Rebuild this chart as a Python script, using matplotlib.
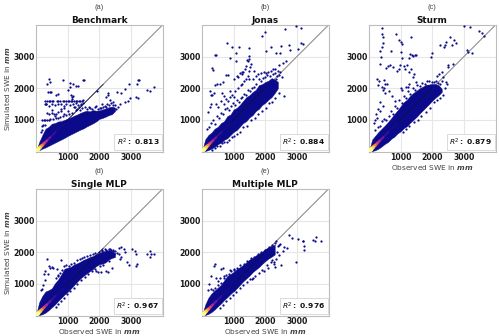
import matplotlib
matplotlib.use("Agg")
import matplotlib.pyplot as plt

titles = ["Benchmark", "Jonas", "Sturm", "Single MLP", "Multiple MLP"]
letters = ["(a)", "(b)", "(c)", "(d)", "(e)"]
r2 = ["0.813", "0.884", "0.879", "0.967", "0.976"]
ticks = [1000, 2000, 3000]

# dense cloud outlines: observed, lower and upper simulated SWE
a_obs = [0, 100, 200, 300, 400, 500, 600, 700, 800, 900, 1000, 1100, 1200, 1300, 1400, 1500, 1600, 1700, 1800, 1900, 2000, 2100, 2200, 2300, 2400, 2500]
a_up = [0, 300, 520, 720, 780, 880, 900, 950, 960, 1000, 1040, 1080, 1130, 1170, 1220, 1260, 1290, 1270, 1310, 1290, 1300, 1330, 1360, 1400, 1420, 1390]
a_low = [0, 40, 90, 130, 180, 230, 280, 330, 380, 430, 490, 540, 590, 640, 690, 730, 790, 840, 890, 950, 1030, 1060, 1100, 1150, 1180, 1280]
b_obs = [0, 100, 200, 300, 400, 500, 600, 700, 800, 900, 1000, 1100, 1200, 1300, 1400, 1500, 1600, 1700, 1800, 1900, 2000, 2100, 2200, 2300, 2400]
b_up = [0, 380, 520, 600, 720, 780, 900, 960, 1120, 1170, 1330, 1380, 1480, 1600, 1720, 1780, 1880, 1950, 2100, 2130, 2200, 2240, 2320, 2280, 2200]
b_low = [0, 15, 45, 90, 150, 230, 280, 370, 420, 520, 620, 680, 790, 900, 960, 1080, 1150, 1280, 1350, 1470, 1540, 1640, 1720, 1850, 2000]
c_obs = [0, 100, 200, 300, 400, 500, 600, 700, 800, 900, 1000, 1100, 1200, 1300, 1400, 1500, 1600, 1700, 1800, 1900, 2000, 2100, 2200, 2300]
c_up = [0, 380, 500, 620, 720, 820, 930, 1050, 1180, 1300, 1430, 1560, 1640, 1760, 1850, 1920, 2000, 2050, 2110, 2120, 2140, 2130, 2100, 1980]
c_low = [0, 15, 40, 90, 160, 240, 300, 400, 470, 570, 640, 740, 800, 910, 1000, 1090, 1200, 1300, 1400, 1500, 1610, 1700, 1780, 1880]
d_obs = [0, 100, 200, 300, 400, 500, 600, 700, 800, 900, 1000, 1100, 1200, 1300, 1400, 1500, 1600, 1700, 1800, 1900, 2000, 2100, 2200, 2300, 2400, 2500]
d_up = [0, 420, 620, 760, 800, 860, 1020, 1140, 1300, 1480, 1510, 1540, 1610, 1650, 1700, 1760, 1800, 1850, 1880, 1930, 1980, 2020, 2050, 2070, 2040, 1980]
d_low = [0, 15, 40, 90, 170, 260, 350, 460, 560, 660, 750, 850, 960, 1070, 1170, 1250, 1330, 1400, 1470, 1560, 1620, 1640, 1680, 1770, 1820, 1850]
e_obs = [0, 100, 200, 300, 400, 500, 600, 700, 800, 900, 1000, 1100, 1200, 1300, 1400, 1500, 1600, 1700, 1800, 1900, 2000, 2100, 2200, 2300]
e_up = [0, 340, 560, 700, 790, 880, 970, 1110, 1250, 1310, 1380, 1470, 1530, 1600, 1680, 1770, 1820, 1900, 1960, 2020, 2100, 2160, 2200, 2240]
e_low = [0, 15, 50, 110, 190, 290, 380, 490, 580, 680, 770, 860, 970, 1080, 1170, 1260, 1370, 1450, 1530, 1630, 1720, 1800, 1860, 1930]

# individually visible points
a_x = [400, 450, 350, 850, 1080, 1180, 1250, 1340, 1480, 1520, 1060, 1000, 320, 380, 430, 480, 700, 620, 1100, 1130, 1180, 1150,
       300, 350, 400, 450, 500, 550, 650, 700, 750, 850, 900, 950, 1000, 1050, 1100, 1150, 1200, 1250, 1300, 1350, 1400, 1450, 1500,
       270, 330, 420, 500, 600, 700, 780, 880, 960, 1060, 1180, 1280, 1340, 1420, 1480,
       350, 420, 500, 560, 640, 780, 900, 1240, 1300, 1360, 1450,
       200, 250, 300, 350, 400, 450, 180, 230, 280, 150, 190,
       1930, 2270, 2270, 2220, 2550, 2700, 2800, 2950, 3200, 3220, 3260, 3500, 3620, 3730, 3160, 3230, 2900, 2800, 2670, 2980, 2100, 2450, 2500, 2600, 2350, 2180, 2050,
       1620, 1700, 1780, 1850, 1950, 2020, 2130, 2200, 2320, 2420, 2520, 1560, 1680, 1900, 2250, 2380, 550, 620, 700, 770, 850, 950, 1050, 1150, 1280, 1400, 500, 600, 680, 800, 900, 1010, 1200, 1420]
a_y = [2300, 2200, 2130, 2270, 2170, 2120, 2080, 2060, 2270, 2270, 2030, 1950, 1500, 1880, 1880, 1880, 1830, 1780, 1780, 1720, 1760, 1650,
       1600, 1590, 1610, 1600, 1590, 1600, 1590, 1600, 1610, 1590, 1600, 1610, 1590, 1600, 1610, 1600, 1590, 1600, 1610, 1600, 1590, 1600, 1620,
       1490, 1500, 1450, 1500, 1480, 1510, 1490, 1440, 1500, 1470, 1500, 1530, 1480, 1500, 1520,
       1210, 1200, 1210, 1200, 1200, 1330, 1380, 1400, 1350, 1420, 1370,
       1000, 1000, 1010, 1000, 1010, 1020, 800, 850, 830, 620, 680,
       1900, 1850, 1780, 1710, 1880, 1860, 1980, 2130, 2130, 2250, 2250, 1940, 1900, 2040, 1730, 1700, 1600, 1550, 1500, 1690, 1500, 1560, 1470, 1420, 1620, 1450, 1380,
       1340, 1370, 1350, 1400, 1350, 1380, 1420, 1400, 1470, 1480, 1350, 1400, 1420, 1450, 1500, 1530, 1030, 1060, 1050, 1100, 1130, 1150, 1170, 1230, 1300, 1320, 1310, 1130, 1240, 1270, 1200, 1280, 1400, 1480]

b_x = [2960, 3140, 2640, 2000, 1900, 790, 950, 1160, 1500, 400, 450, 3140, 3190, 2740, 2500, 2190, 2770, 3030, 1060, 870, 1500, 1480, 2330, 2480, 2030, 1080,
       350, 330, 2660, 2560, 2450, 1450, 1400, 1350, 1500, 1550, 1300, 1250, 1200, 1150, 1450, 1500, 1380, 1330, 1280, 1420, 1520, 1100, 1000, 820, 760, 650, 560, 480, 420,
       370, 320, 290, 250, 620, 700, 880, 950, 1020, 300, 240, 200, 430, 520, 590, 680, 760, 830, 900, 1050, 1130, 1220, 1260, 1600, 1700, 1780, 1850, 1950, 2020, 2100, 2180, 2250, 2320, 2400, 2470, 2520, 1660, 2600,
       150, 210, 280, 360, 420, 480, 540, 600, 660, 720, 790, 850, 920, 980, 1040, 1100, 1160, 1220, 1280, 1340, 1400, 1460, 1520, 1580, 1640, 1720, 1800, 1870, 1930, 2000, 2060, 2150, 2230, 2300, 2370, 2440, 2350, 2280, 2180, 2120,
       330, 400, 470, 560, 630, 700, 780, 860, 960, 1020, 1120, 1200, 1300, 1430, 1560, 1680, 1780, 1900, 2010, 2110, 2220, 2300, 2420]
b_y = [3970, 3895, 3860, 3770, 3650, 3445, 3320, 3320, 3270, 3060, 3040, 3445, 3390, 3370, 3350, 3320, 3215, 3245, 3130, 2950, 3005, 2920, 3110, 3130, 3180, 2850,
       2565, 2640, 2850, 2800, 2740, 2850, 2700, 2600, 2550, 2780, 2500, 2450, 2480, 2350, 2400, 2300, 2300, 2230, 2520, 2900, 2660, 2380, 2300, 2430, 2420, 2200, 2130, 2130, 2100,
       1850, 1800, 1780, 1900, 1850, 1750, 1900, 1800, 1720, 1500, 1400, 1250, 1500, 1420, 1600, 1500, 1650, 1600, 1720, 1900, 2000, 2100, 2150, 2300, 2380, 2450, 2480, 2520, 2480, 2500, 2560, 2620, 2600, 2550, 2500, 2350, 2550, 1750,
       720, 780, 900, 1000, 880, 1130, 1050, 1220, 1180, 1330, 1380, 1300, 1450, 1520, 1480, 1620, 1560, 1700, 1720, 1820, 1800, 1950, 1920, 2020, 2050, 2120, 2280, 2220, 2330, 2360, 2420, 2380, 2450, 2480, 2400, 2420, 2280, 2230, 2100, 1950,
       50, 120, 170, 180, 280, 310, 300, 350, 470, 500, 560, 620, 780, 820, 1000, 1060, 1180, 1290, 1380, 1540, 1580, 1700, 1850]

c_x = [400, 410, 450, 860, 960, 1340, 1000, 1050, 3000, 3200, 3480, 3580, 3630, 2560, 2250, 2750, 2620, 2700, 2450, 450, 400, 350, 380, 680, 1000, 2000, 2360, 2400, 1050,
       1300, 1350, 1400, 1450, 1500, 1250, 1200, 1150, 1100, 980, 950, 880, 760, 650, 600, 550, 360, 250, 270, 330, 480, 520, 1280, 1340, 1420, 1380, 1480, 1280, 1220, 1160,
       400, 480, 560, 430, 500, 620, 720, 810, 350, 270, 220, 180, 160, 260, 340, 430, 1000, 1050, 3100, 3130, 3250, 2500, 2650, 2300, 2200, 2150, 2350, 2500, 2450, 1960,
       200, 270, 340, 410, 480, 550, 620, 690, 760, 830, 900, 960, 1030, 1100, 1170, 1240, 1310, 1380, 1450, 1520, 1600, 1680, 1760, 1840, 1900, 1990, 2060, 2120, 2190, 2250, 2310,
       1060, 1160, 1280, 1410, 1540, 1660, 1800, 1930, 2050, 2140, 2240, 2340, 2400, 2480]
c_y = [3890, 3700, 3620, 3700, 3520, 3630, 3450, 3400, 3970, 3930, 3800, 3760, 3640, 3630, 3370, 3430, 3380, 3530, 3470, 3420, 3300, 3180, 3000, 3170, 3160, 3130, 3290, 3380, 2950,
       3070, 3060, 3030, 3040, 3050, 2950, 2750, 2600, 2700, 2720, 2600, 2560, 2680, 2750, 2700, 2650, 2780, 2300, 2100, 2230, 2260, 2150, 2500, 2600, 2450, 2360, 2200, 2150, 2050, 2030,
       2050, 2010, 2150, 1950, 1850, 1900, 1750, 1600, 1550, 1350, 1200, 1000, 900, 1050, 1280, 1450, 2000, 1950, 3200, 3160, 3100, 2720, 2770, 2520, 2450, 2400, 2350, 2680, 2200, 2980,
       680, 780, 820, 960, 1030, 1000, 1120, 1280, 1200, 1440, 1380, 1620, 1540, 1760, 1680, 1920, 1820, 2000, 1950, 2100, 2060, 2160, 2150, 2230, 2220, 2200, 2190, 2230, 2180, 2120, 2240,
       620, 700, 800, 930, 1000, 1130, 1240, 1380, 1550, 1640, 1700, 1800, 2000, 2150]

d_x = [350, 800, 700, 400, 430, 500, 550, 650, 300, 250, 380, 2000, 2100, 2200, 2300, 2380, 2440, 2500, 2480, 2560, 2700, 2780, 2640, 2700, 2830, 3030, 3140, 3160, 2670, 2880, 2950, 3200, 3160, 3500, 3600, 3640, 3620, 3730, 2620, 1900, 2060, 2280, 2200, 1950, 2400, 150, 200, 230, 280,
       620, 680, 760, 830, 890, 950, 1040, 1120, 1210, 1300, 1380, 1460, 1530, 1620, 1700, 1800, 1880, 2080, 2180, 2340, 2430,
       620, 700, 790, 880, 980, 1090, 1200, 1310, 1430, 1540, 1660, 1780, 1860, 2020, 2130, 2320]
d_y = [1800, 1740, 1280, 1550, 1490, 1520, 1500, 1470, 1400, 1300, 1300, 2000, 2050, 2080, 2100, 2080, 2050, 2030, 1940, 1990, 2170, 2100, 1930, 1850, 2000, 2090, 2050, 1960, 1780, 1690, 1610, 1640, 1560, 1950, 2040, 1930, 1850, 1960, 2120, 1400, 1390, 1380, 1420, 1360, 1500, 800, 850, 950, 1120,
       1200, 1260, 1350, 1440, 1560, 1590, 1580, 1620, 1660, 1740, 1780, 1820, 1840, 1880, 1900, 1950, 1990, 2060, 2090, 2110, 2080,
       270, 360, 470, 560, 670, 780, 880, 1000, 1120, 1220, 1300, 1420, 1480, 1560, 1590, 1720]

e_x = [410, 380, 300, 590, 650, 880, 1000, 580, 700, 450, 500, 230, 200, 270, 2350, 2450, 2550, 2400, 2480, 2600, 2750, 3050, 2850, 3180, 3200, 3580, 3510, 3620, 3760, 3240, 3220, 2980, 2500, 2290, 2340, 2700, 2380, 2450, 2280, 2300, 1950, 2100, 1600, 1530, 1000, 2180,
       340, 420, 520, 610, 680, 760, 850, 930, 1020, 1110, 1210, 1320, 1420, 1540, 1650, 1760, 1870, 1990, 2110, 2220, 2310,
       560, 660, 770, 870, 980, 1090, 1190, 1310, 1430, 1570, 1680, 1800, 1910, 2060, 2200]
e_y = [1620, 1550, 1250, 1480, 1490, 1440, 1470, 1200, 1250, 1200, 1100, 1000, 800, 850, 2360, 2220, 2050, 2200, 2250, 2180, 2530, 2410, 2440, 2360, 2370, 2350, 2400, 2470, 2350, 2200, 2070, 1700, 1600, 1680, 1780, 2150, 2020, 1900, 1620, 1530, 1420, 1500, 1200, 1150, 800, 1700,
       800, 860, 970, 1020, 1170, 1280, 1320, 1400, 1450, 1510, 1590, 1640, 1730, 1820, 1860, 1950, 2000, 2070, 2170, 2230, 2290,
       240, 340, 450, 540, 650, 740, 860, 960, 1070, 1150, 1260, 1340, 1430, 1600, 1740]

# density colours along the diagonal
core_edges = [0, 70, 130, 190, 260, 340, 450, 620, 900]
core_colors = ["#fcfd8f", "#f5d24a", "#f08a3c", "#d8456c", "#a52c98", "#6a1a9e", "#3a0f9a", "#1b0a8c"]

panels = [
    (a_obs, a_low, a_up, a_x, a_y),
    (b_obs, b_low, b_up, b_x, b_y),
    (c_obs, c_low, c_up, c_x, c_y),
    (d_obs, d_low, d_up, d_x, d_y),
    (e_obs, e_low, e_up, e_x, e_y),
]
W, H = 500, 336
boxes = [(36, 25), (202, 25), (369, 25), (36, 189), (202, 189)]
SIZE = 126.5
NAVY = "#0a0a8a"

fig = plt.figure(figsize=(W / 100, H / 100), dpi=100)
for i, ((ox, oy), (obs, low, up, px, py)) in enumerate(zip(boxes, panels)):
    ax = fig.add_axes([ox / W, 1 - (oy + SIZE) / H, SIZE / W, SIZE / H])
    ax.set_xlim(0, 4000)
    ax.set_ylim(0, 4000)
    ax.grid(color="#e6e6e6", lw=0.8)
    ax.set_axisbelow(True)
    ax.plot([0, 4000], [0, 4000], color="#8f8f8f", lw=0.8, zorder=2)
    ax.fill_between(obs, low, up, color=NAVY, lw=0.3, zorder=3)
    ax.scatter(px, py, s=2.6, color=NAVY, lw=0, zorder=3)
    ax.plot([0, obs[-1] * 0.85], [0, obs[-1] * 0.85], color="#101040", lw=0.5, zorder=4)
    for j, c in enumerate(core_colors):
        lw = 3.0 - 0.28 * j
        ax.plot(core_edges[j:j + 2], core_edges[j:j + 2], color=c, lw=lw, zorder=5 + len(core_colors) - j,
                solid_capstyle="round")
    ax.set_xticks(ticks)
    ax.set_yticks(ticks)
    ax.tick_params(length=0, labelsize=5.6, pad=1, labelcolor="#1a1a1a")
    for lab in ax.get_xticklabels() + ax.get_yticklabels():
        lab.set_fontweight("bold")
    for s in ax.spines.values():
        s.set_color("#bdbdbd")
        s.set_linewidth(0.8)
    ax.set_title(titles[i], fontsize=6.4, fontweight="bold", pad=1.5, color="#111111")
    fig.text((ox + SIZE / 2) / W, 1 - (oy - 17.5) / H, letters[i], ha="center", va="center",
             fontsize=5.4, color="#444444", family="Liberation Sans")
    ax.text(0.975, 0.03, r"$\boldsymbol{R^2}$" + r"$\mathbf{:}$ " + r2[i], transform=ax.transAxes, ha="right", va="bottom",
            fontsize=5.4, fontweight="bold", color="#111111", zorder=20,
            bbox=dict(boxstyle="square,pad=0.3", fc="white", ec="#d5d5d5", lw=0.6),
            math_fontfamily="dejavusans")
    if i in (0, 3):
        ax.set_ylabel(r"Simulated SWE in $\boldsymbol{mm}$", fontsize=5.3, color="#444444")
        ax.yaxis.set_label_coords(-0.19, 0.5)
    if i in (2, 3, 4):
        ax.set_xlabel(r"Observed SWE in $\boldsymbol{mm}$", fontsize=5.3, color="#444444")
        ax.xaxis.set_label_coords(0.5, -0.092)

fig.savefig("out.png", dpi=100)
